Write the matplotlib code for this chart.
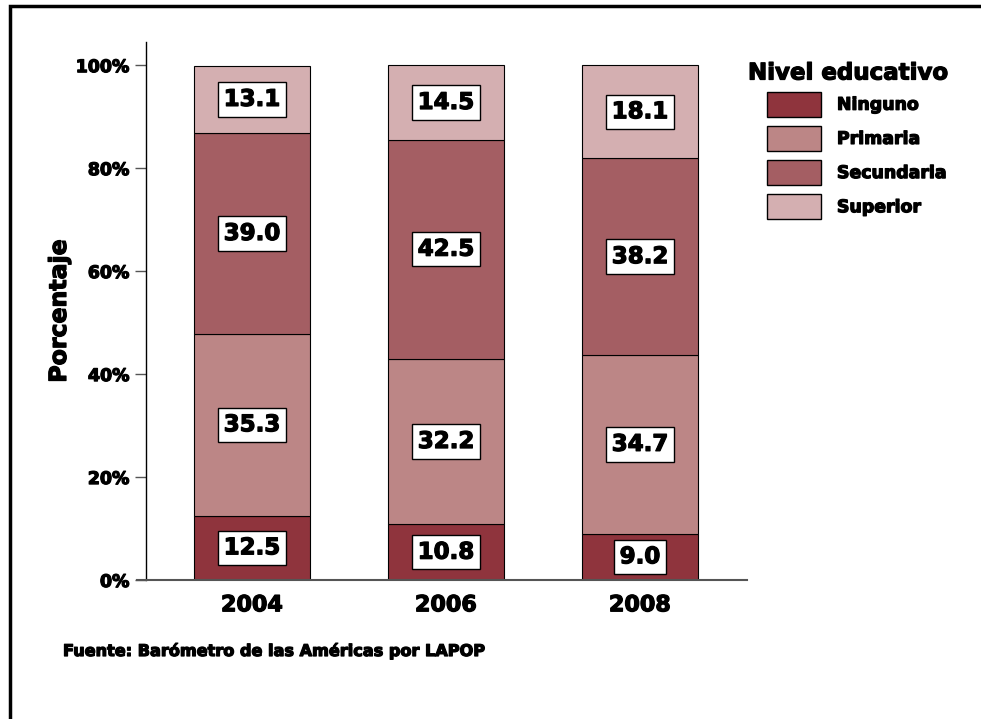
import matplotlib
matplotlib.use("Agg")
import matplotlib.pyplot as plt
import matplotlib.patheffects as pe
from matplotlib.patches import Rectangle, Patch
from matplotlib.ticker import FuncFormatter

years = ["2004", "2006", "2008"]
levels = ["Ninguno", "Primaria", "Secundaria", "Superior"]
ninguno = [12.5, 10.8, 9.0]
primaria = [35.3, 32.2, 34.7]
secundaria = [39.0, 42.5, 38.2]
superior = [13.1, 14.5, 18.1]
series = [ninguno, primaria, secundaria, superior]
colors = ["#8F343D", "#BC8686", "#A45E63", "#D4AFB1"]

plt.rcParams["font.family"] = ["DejaVu Sans"]
plt.rcParams["font.weight"] = "bold"

# slightly heavier strokes for all text
heavy = [pe.withStroke(linewidth=0.9, foreground="black")]

fig = plt.figure(figsize=(9.81, 7.19), dpi=100)
fig.patch.set_facecolor("white")

# outer frame (right and bottom edges fall outside the canvas)
fig.patches.append(Rectangle((10 / 981, -0.05), 1.2, 1 - 6 / 719 + 0.05,
                             transform=fig.transFigure, fill=False,
                             edgecolor="black", linewidth=2.5, zorder=0))

ax = fig.add_axes([137 / 981, 1 - 580 / 719, (747 - 137) / 981, (580 - 42) / 719])
x = list(range(len(years)))
bottoms = [0.0] * len(years)
for vals, col in zip(series, colors):
    ax.bar(x, vals, width=0.6, bottom=bottoms, color=col,
           edgecolor="black", linewidth=0.8, zorder=2)
    for xi, v, b in zip(x, vals, bottoms):
        ax.text(xi, b + v / 2, f"{v:.1f}", ha="center", va="center",
                fontsize=16.5, fontweight="bold", zorder=4, path_effects=heavy,
                bbox=dict(boxstyle="square,pad=0.25", facecolor="white",
                          edgecolor="black", linewidth=1.0))
    bottoms = [b + v for b, v in zip(bottoms, vals)]

ax.set_xlim((137 - 252) / 194, (747 - 252) / 194)
ax.set_ylim(0, 104.5)
ax.spines["top"].set_visible(False)
ax.spines["right"].set_visible(False)
ax.spines["left"].set_position(("data", (146 - 252) / 194))
ax.spines["left"].set_linewidth(1.0)
ax.spines["bottom"].set_color("#555555")
ax.spines["bottom"].set_linewidth(1.5)

ax.set_yticks([0, 20, 40, 60, 80, 100])
ax.yaxis.set_major_formatter(FuncFormatter(lambda v, p: f"{int(v)}%"))
ax.tick_params(axis="y", length=8, width=1.0, color="#555555",
               labelsize=12.5, pad=4)
ax.set_xticks(x)
ax.set_xticklabels(years)
ax.tick_params(axis="x", length=0, labelsize=16, pad=11)
for lab in ax.get_xticklabels() + ax.get_yticklabels():
    lab.set_fontweight("bold")
    lab.set_path_effects(heavy)

fig.text(59 / 981, 1 - 311 / 719, "Porcentaje", rotation=90, ha="center",
         va="center", fontsize=17, fontweight="bold", path_effects=heavy)

fig.text(748 / 981, 1 - 73 / 719, "Nivel educativo", ha="left", va="center",
         fontsize=16.5, fontweight="bold", path_effects=heavy)

handles = [Patch(facecolor=c, edgecolor="black", linewidth=1.0) for c in colors]
leg = fig.legend(handles, levels, loc="upper left",
                 bbox_to_anchor=(751 / 981, 1 - 76 / 719),
                 frameon=False,
                 prop=dict(size=12.5, weight="bold"),
                 handlelength=3.15, handleheight=1.85, handletextpad=0.9,
                 labelspacing=0.52)
for t in leg.get_texts():
    t.set_path_effects(heavy)

fig.text(63 / 981, 1 - 651 / 719, "Fuente: Barómetro de las Américas por LAPOP",
         ha="left", va="center", fontsize=11.6, fontweight="bold",
         path_effects=heavy)

fig.savefig("out.png", dpi=100, facecolor="white")
